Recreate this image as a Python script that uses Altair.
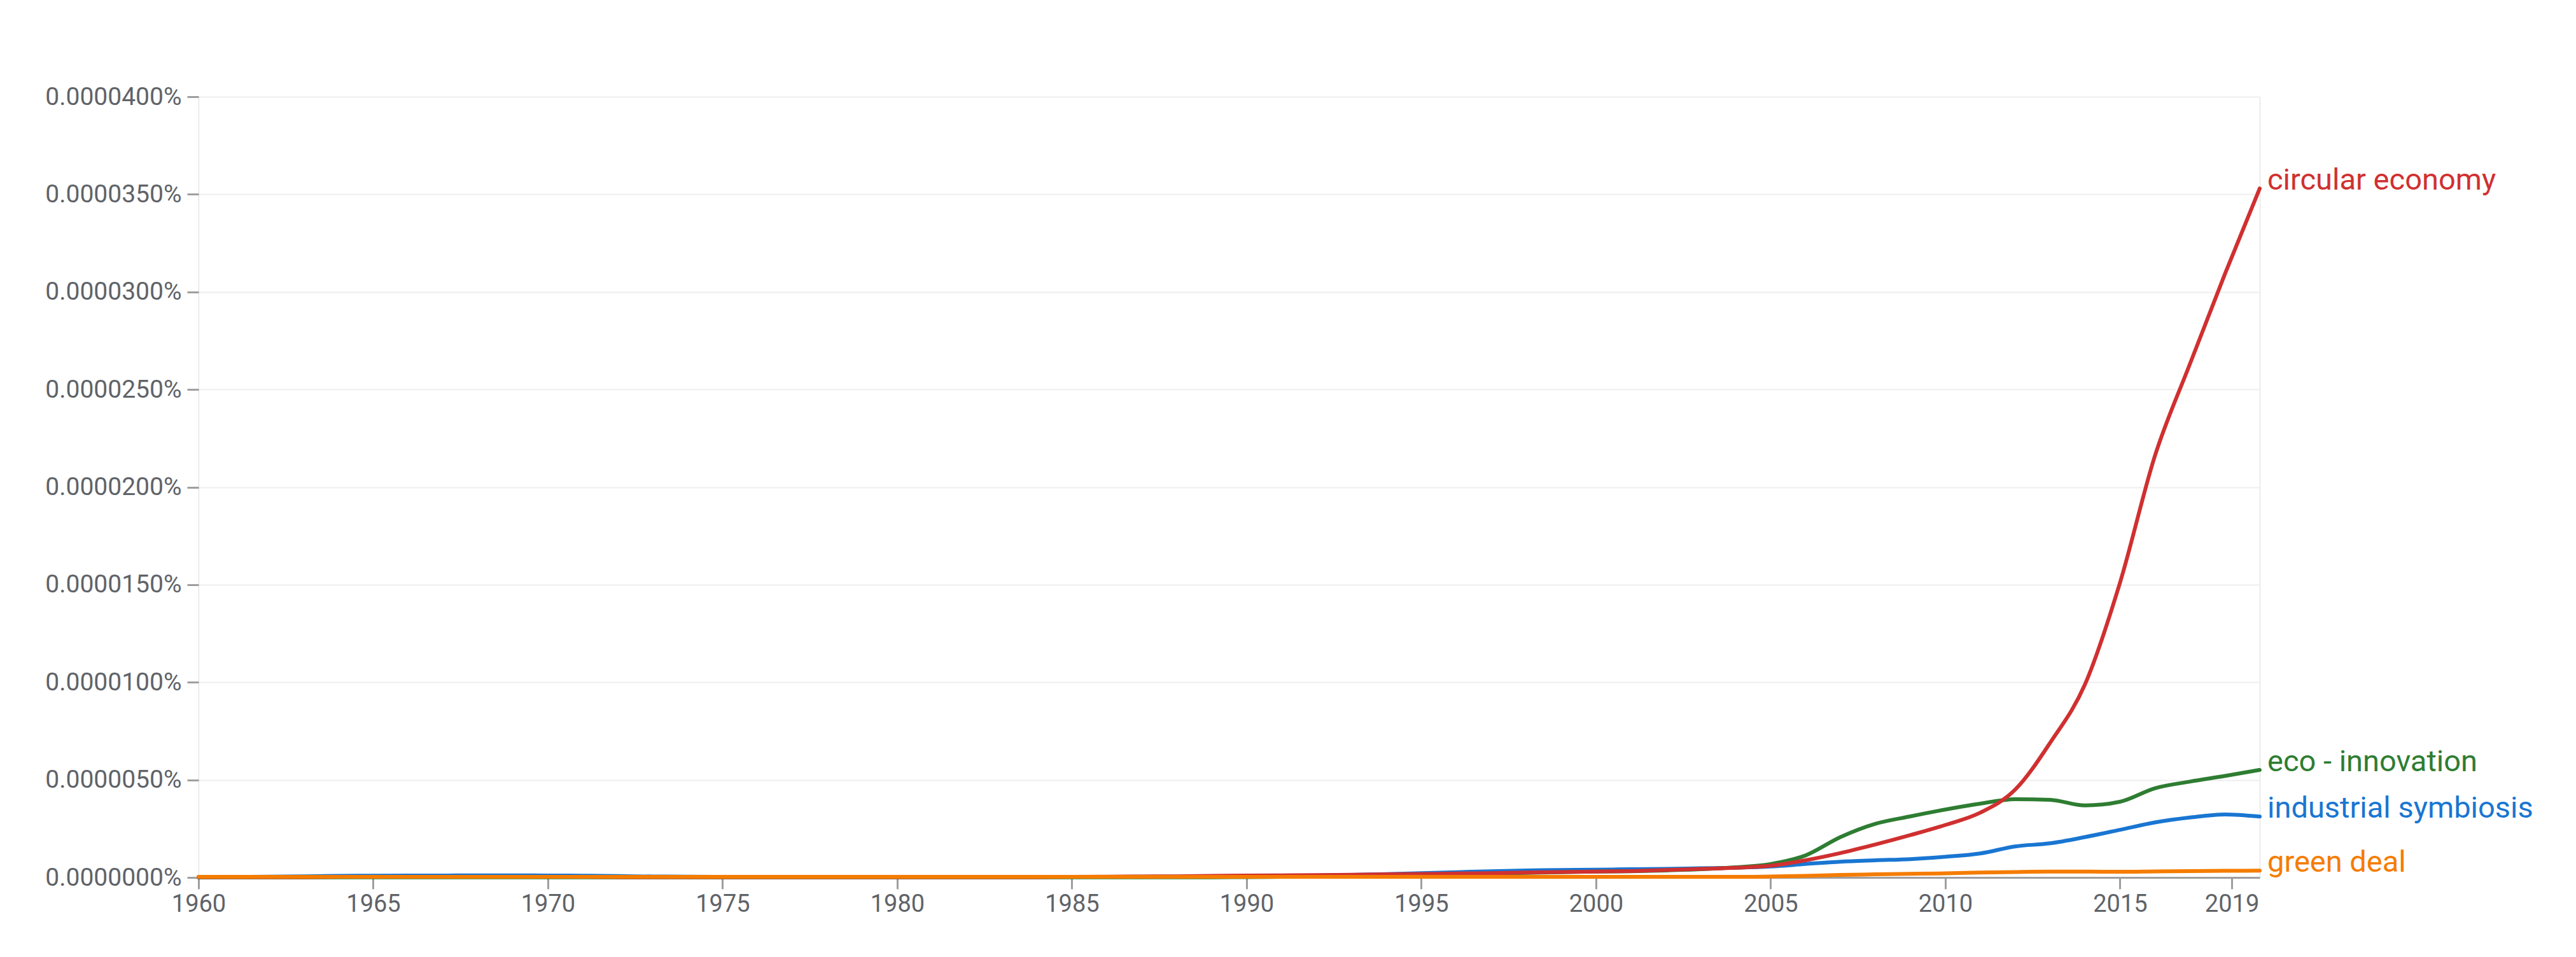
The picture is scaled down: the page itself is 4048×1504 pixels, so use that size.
import altair as alt
import pandas as pd

years = list(range(1960, 2020))

series_names = ["circular economy", "eco - innovation", "industrial symbiosis", "green deal"]
series_colors = ["#d03030", "#2e7d32", "#1976d2", "#f57c00"]

# values in units of 1e-6 percent
circular_economy = [
    0.02, 0.02, 0.02, 0.02, 0.03, 0.03, 0.03, 0.03, 0.03, 0.03,
    0.03, 0.03, 0.02, 0.02, 0.02, 0.02, 0.02, 0.02, 0.02, 0.02,
    0.02, 0.02, 0.02, 0.02, 0.02, 0.03, 0.04, 0.05, 0.06, 0.08,
    0.10, 0.11, 0.12, 0.14, 0.16, 0.18, 0.20, 0.22, 0.25, 0.28,
    0.30, 0.33, 0.38, 0.44, 0.50, 0.60, 0.88, 1.25, 1.69, 2.17,
    2.69, 3.32, 4.50, 6.90, 9.90, 15.10, 21.60, 26.30, 30.90, 35.30,
]
eco_innovation = [
    0.01, 0.01, 0.01, 0.01, 0.01, 0.01, 0.01, 0.01, 0.01, 0.01,
    0.01, 0.01, 0.01, 0.01, 0.01, 0.01, 0.01, 0.01, 0.01, 0.01,
    0.01, 0.01, 0.01, 0.01, 0.01, 0.01, 0.01, 0.01, 0.01, 0.01,
    0.02, 0.03, 0.05, 0.07, 0.10, 0.13, 0.16, 0.20, 0.24, 0.27,
    0.30, 0.32, 0.36, 0.42, 0.52, 0.69, 1.13, 2.07, 2.75, 3.13,
    3.48, 3.78, 4.01, 3.98, 3.69, 3.88, 4.57, 4.91, 5.20, 5.51,
]
industrial_symbiosis = [
    0.02, 0.03, 0.04, 0.06, 0.08, 0.09, 0.10, 0.10, 0.11, 0.11,
    0.10, 0.09, 0.07, 0.05, 0.04, 0.03, 0.03, 0.03, 0.03, 0.03,
    0.03, 0.03, 0.03, 0.03, 0.03, 0.03, 0.03, 0.04, 0.04, 0.04,
    0.05, 0.07, 0.10, 0.13, 0.17, 0.22, 0.27, 0.32, 0.36, 0.38,
    0.40, 0.42, 0.44, 0.47, 0.50, 0.56, 0.69, 0.81, 0.88, 0.94,
    1.06, 1.23, 1.59, 1.75, 2.07, 2.44, 2.82, 3.07, 3.23, 3.12,
]
green_deal = [
    0.03, 0.03, 0.03, 0.03, 0.03, 0.03, 0.03, 0.03, 0.03, 0.03,
    0.03, 0.03, 0.03, 0.03, 0.03, 0.03, 0.03, 0.03, 0.03, 0.03,
    0.03, 0.03, 0.03, 0.03, 0.03, 0.03, 0.03, 0.03, 0.03, 0.03,
    0.03, 0.03, 0.03, 0.03, 0.03, 0.03, 0.03, 0.03, 0.03, 0.03,
    0.03, 0.03, 0.03, 0.03, 0.03, 0.05, 0.08, 0.13, 0.16, 0.19,
    0.21, 0.25, 0.28, 0.30, 0.30, 0.29, 0.31, 0.33, 0.34, 0.35,
]

y_tick_values = [0, 5, 10, 15, 20, 25, 30, 35, 40]  # units of 1e-6 percent
x_tick_values = [1960, 1965, 1970, 1975, 1980, 1985, 1990, 1995, 2000, 2005, 2010, 2015, 2018.2]
x_tick_labels = ["1960", "1965", "1970", "1975", "1980", "1985", "1990", "1995", "2000", "2005", "2010", "2015", "2019"]

all_series = {
    "circular economy": circular_economy,
    "eco - innovation": eco_innovation,
    "industrial symbiosis": industrial_symbiosis,
    "green deal": green_deal,
}

UNIT = 1e-6
rows = []
for name, vals in all_series.items():
    for yr, v in zip(years, vals):
        rows.append({"year": yr, "value": v * UNIT, "series": name})
df = pd.DataFrame(rows)

label_df = pd.DataFrame([
    {"year": years[-1], "value": vals[-1] * UNIT, "series": name}
    for name, vals in all_series.items()
])

FONT = "Roboto"
TEXT_COLOR = "#5f6368"
TICK_COLOR = "#9e9e9e"

color_scale = alt.Scale(domain=series_names, range=series_colors)

x_label_expr = "{" + ",".join(f"'{v}':'{l}'" for v, l in zip(x_tick_values, x_tick_labels)) + "}[''+datum.value]"

x_enc = alt.X(
    "year:Q",
    scale=alt.Scale(domain=[1960, 2019], nice=False, zero=False),
    axis=alt.Axis(
        values=x_tick_values,
        labelExpr=x_label_expr,
        grid=False,
        domain=True,
        domainColor=TICK_COLOR,
        domainWidth=3,
        ticks=True,
        tickColor=TICK_COLOR,
        tickSize=18,
        tickWidth=3,
        labelFont=FONT,
        labelFontSize=38,
        labelColor=TEXT_COLOR,
        labelPadding=5,
        labelFlush=False,
        labelOverlap=False,
        labelLimit=0,
        title=None,
    ),
)

y_enc = alt.Y(
    "value:Q",
    scale=alt.Scale(domain=[0, 40 * UNIT], nice=False),
    axis=alt.Axis(
        values=[v * UNIT for v in y_tick_values],
        labelExpr="format(datum.value, '.7f') + '%'",
        grid=True,
        gridColor="#eeeeee",
        gridWidth=2,
        domain=False,
        ticks=True,
        tickColor=TICK_COLOR,
        tickSize=18,
        tickWidth=3,
        labelFont=FONT,
        labelFontSize=39,
        labelColor=TEXT_COLOR,
        labelPadding=9,
        labelOverlap=False,
        labelLimit=0,
        title=None,
    ),
)

draw_order = ["industrial symbiosis", "eco - innovation", "circular economy", "green deal"]

layers = []
for i, name in enumerate(draw_order):
    enc = dict(
        x=x_enc if i == 0 else alt.X("year:Q"),
        y=y_enc if i == 0 else alt.Y("value:Q"),
        color=alt.Color("series:N", scale=color_scale, legend=None),
    )
    layers.append(
        alt.Chart(df)
        .transform_filter(alt.datum.series == name)
        .mark_line(strokeWidth=6, interpolate="monotone", strokeCap="round")
        .encode(**enc)
    )

labels = (
    alt.Chart(label_df)
    .mark_text(align="left", baseline="middle", dx=12, dy=-12, font=FONT, fontSize=47)
    .encode(
        x=alt.X("year:Q"),
        y=alt.Y("value:Q"),
        text="series:N",
        color=alt.Color("series:N", scale=color_scale, legend=None),
    )
)

chart = (
    alt.layer(*layers, labels)
    .properties(
        width=3239,
        height=1227,
        autosize=alt.AutoSizeParams(type="none"),
        padding={"left": 304, "top": 144, "right": 480, "bottom": 100},
    )
    .configure_view(stroke=None)
    .configure(background="white")
)

chart.save("out.html", embed_options={"renderer": "svg", "actions": False})
